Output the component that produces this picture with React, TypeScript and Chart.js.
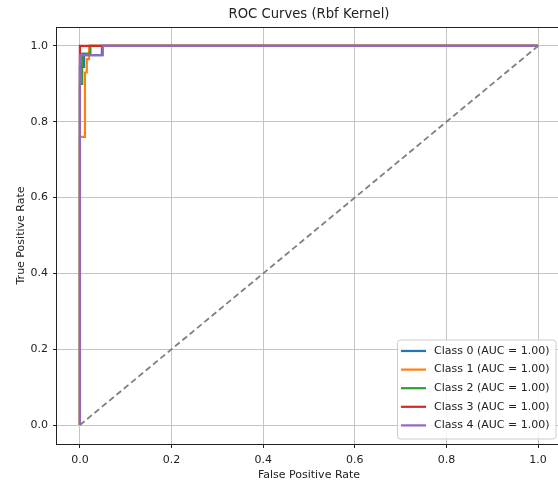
import React, { useEffect, useRef } from "react";
import { Chart, registerables } from "chart.js";

Chart.register(...registerables);

const titleText = "ROC Curves (Rbf Kernel)";
const xAxisTitle = "False Positive Rate";
const yAxisTitle = "True Positive Rate";

const classLabels = [
  "Class 0 (AUC = 1.00)",
  "Class 1 (AUC = 1.00)",
  "Class 2 (AUC = 1.00)",
  "Class 3 (AUC = 1.00)",
  "Class 4 (AUC = 1.00)",
];
const classColors = ["#1f77b4", "#ff7f0e", "#2ca02c", "#d62728", "#9467bd"];

const fpr0 = [0, 0, 0.009, 0.009, 0.048, 0.048, 1];
const tpr0 = [0, 0.945, 0.945, 0.976, 0.976, 1, 1];
const fpr1 = [0, 0, 0.011, 0.011, 0.015, 0.015, 0.02, 0.02, 1];
const tpr1 = [0, 0.76, 0.76, 0.93, 0.93, 0.965, 0.965, 1, 1];
const fpr2 = [0, 0, 0.005, 0.005, 0.023, 0.023, 1];
const tpr2 = [0, 0.9, 0.9, 0.98, 0.98, 1, 1];
const fpr3 = [0, 0, 1];
const tpr3 = [0, 1, 1];
const fpr4 = [0, 0, 0.05, 0.05, 1];
const tpr4 = [0, 0.976, 0.976, 1, 1];

const fprs = [fpr0, fpr1, fpr2, fpr3, fpr4];
const tprs = [tpr0, tpr1, tpr2, tpr3, tpr4];

const diagX = [0, 1];
const diagY = [0, 1];

const xTicks = [0, 0.2, 0.4, 0.6, 0.8, 1.0];
const yTicks = [0, 0.2, 0.4, 0.6, 0.8, 1.0];

const FONT = "'DejaVu Sans', sans-serif";
const TEXT = "#222222";
const GRID = "#c4c4c4";

const framePlugin = {
  id: "frame",
  afterDatasetsDraw(chart: any) {
    const { ctx, chartArea } = chart;
    const { left, right, top, bottom } = chartArea;
    ctx.save();
    // spines
    ctx.strokeStyle = "#222222";
    ctx.lineWidth = 1;
    ctx.strokeRect(Math.round(left) - 0.5, Math.round(top) + 0.5, right - left, bottom - top);

    // legend
    const bRight = right - 5.5;
    const bBottom = bottom - 5.5;
    const bLeft = 397;
    const bTop = bBottom - 99;
    ctx.beginPath();
    if (ctx.roundRect) ctx.roundRect(bLeft + 0.5, bTop + 0.5, bRight - bLeft, bBottom - bTop, 3);
    else ctx.rect(bLeft + 0.5, bTop + 0.5, bRight - bLeft, bBottom - bTop);
    ctx.fillStyle = "rgba(255,255,255,0.85)";
    ctx.fill();
    ctx.strokeStyle = "#cccccc";
    ctx.lineWidth = 1;
    ctx.stroke();

    const ds = chart.data.datasets.filter((d: any) => d.inLegend);
    ctx.font = `11px ${FONT}`;
    ctx.textBaseline = "middle";
    ctx.textAlign = "left";
    ds.forEach((d: any, i: number) => {
      const cy = bTop + 11.5 + i * 18.6;
      ctx.beginPath();
      ctx.strokeStyle = d.borderColor;
      ctx.lineWidth = 2.2;
      ctx.moveTo(bLeft + 4, cy);
      ctx.lineTo(bLeft + 29, cy);
      ctx.stroke();
      ctx.fillStyle = TEXT;
      ctx.fillText(d.label, bLeft + 37, cy);
    });

    // title
    ctx.font = `13.2px ${FONT}`;
    ctx.textAlign = "center";
    ctx.textBaseline = "middle";
    ctx.fillStyle = TEXT;
    ctx.fillText(titleText, (left + right) / 2, 15);
    ctx.restore();
  },
};

export default function App() {
  const ref = useRef<HTMLCanvasElement>(null);
  useEffect(() => {
    if (!ref.current) return;
    Chart.defaults.font.family = FONT;
    const datasets: any[] = classLabels.map((label, i) => ({
      label,
      data: fprs[i].map((x, j) => ({ x, y: tprs[i][j] })),
      borderColor: classColors[i],
      backgroundColor: classColors[i],
      borderWidth: 2.2,
      pointRadius: 0,
      showLine: true,
      fill: false,
      tension: 0,
      order: 10 - i,
      inLegend: true,
    }));
    datasets.push({
      label: "diag",
      data: diagX.map((x, j) => ({ x, y: diagY[j] })),
      borderColor: "#7f7f7f",
      borderWidth: 1.8,
      borderDash: [6, 3.5],
      pointRadius: 0,
      showLine: true,
      fill: false,
      order: 0,
      inLegend: false,
    });
    const chart = new Chart(ref.current, {
      type: "scatter",
      data: { datasets },
      options: {
        animation: false,
        responsive: false,
        devicePixelRatio: 1,
        events: [],
        layout: { padding: { top: 27, left: 0, right: 0, bottom: 0 } },
        plugins: {
          legend: { display: false },
          tooltip: { enabled: false },
          title: { display: false },
        },
        scales: {
          x: {
            type: "linear",
            min: -0.05,
            max: 1.05,
            afterFit: (s: any) => {
              s.height = 40;
            },
            afterBuildTicks: (s: any) => {
              s.ticks = xTicks.map((v) => ({ value: v }));
            },
            ticks: {
              callback: (v: any) => Number(v).toFixed(1),
              font: { size: 11 },
              color: TEXT,
              padding: 6,
              maxRotation: 0,
            },
            grid: {
              color: GRID,
              lineWidth: 1,
              drawTicks: true,
              tickLength: 4,
              tickColor: "#222222",
            },
            border: { display: false },
            title: {
              display: true,
              text: xAxisTitle,
              font: { size: 11 },
              color: TEXT,
              padding: { top: 0, bottom: 2.5 },
            },
          },
          y: {
            type: "linear",
            min: -0.05,
            max: 1.05,
            afterFit: (s: any) => {
              s.width = 57;
            },
            afterBuildTicks: (s: any) => {
              s.ticks = yTicks.map((v) => ({ value: v }));
            },
            ticks: {
              callback: (v: any) => Number(v).toFixed(1),
              font: { size: 11 },
              color: TEXT,
              padding: 5,
            },
            grid: {
              color: GRID,
              lineWidth: 1,
              drawTicks: true,
              tickLength: 4,
              tickColor: "#222222",
            },
            border: { display: false },
            title: {
              display: true,
              text: yAxisTitle,
              font: { size: 11 },
              color: TEXT,
              padding: { top: 14.4, bottom: 0 },
            },
          },
        },
      } as any,
      plugins: [framePlugin],
    });
    return () => chart.destroy();
  }, []);
  return (
    <div
      style={{
        position: "fixed",
        left: 0,
        top: 0,
        width: 558,
        height: 484,
        overflow: "hidden",
        background: "#fff",
      }}
    >
      <canvas ref={ref} width={561} height={484} style={{ display: "block" }} />
    </div>
  );
}
